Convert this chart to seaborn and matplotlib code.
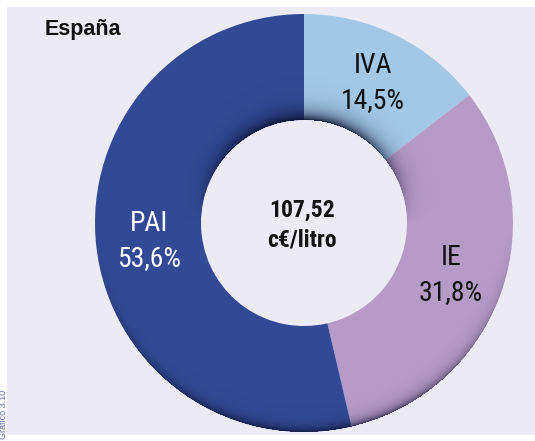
import numpy as np
import matplotlib
matplotlib.use("Agg")
import matplotlib.pyplot as plt
from matplotlib import font_manager
from matplotlib.patches import Rectangle
import seaborn as sns

# Composition of the fuel price (c€/litro) in Spain
componentes = ["IVA", "IE", "PAI"]
porcentajes = [14.5, 31.8, 53.6]
etiquetas_pct = ["14,5%", "31,8%", "53,6%"]
precio_total = "107,52"
unidad = "c€/litro"
titulo = "España"
grafico = "Gráfico 3.10"

colores = ["#A3C8E6", "#B59BC6", "#324A96"]
colores_texto = ["#111111", "#111111", "#FFFFFF"]

sns.set_theme(style="white")
plt.rcParams["font.family"] = ["Liberation Sans", "DejaVu Sans"]

available = {f.name for f in font_manager.fontManager.ttflist}
cond_family = "DejaVu Sans"
for cand in ["Liberation Sans Narrow", "Roboto Condensed", "Open Sans Condensed", "DejaVu Sans Condensed"]:
    if cand in available:
        cond_family = cand
        break

W, H = 535, 441
fig = plt.figure(figsize=(W / 100, H / 100), dpi=100)
fig.patch.set_facecolor("white")
ax = fig.add_axes([0, 0, 1, 1])

# panel background
ax.add_patch(Rectangle((7, 6), W - 7, 428, facecolor="#ECEBF5", edgecolor="none", zorder=0))

cx, cy = 304, 218
r_out, ring = 209, 106
r_in = r_out - ring

pal = sns.color_palette(colores)
wedges, _ = ax.pie(
    porcentajes,
    colors=pal,
    startangle=90,
    counterclock=False,
    radius=r_out,
    center=(cx, cy),
    wedgeprops=dict(width=ring, edgecolor="none"),
    frame=True,
)

# soft bevel shading along the inner top and outer bottom edges of the ring
xs = np.arange(W) + 0.5
ys = np.arange(H) + 0.5
X, Y = np.meshgrid(xs, ys)
dx, dy = X - cx, Y - cy
rr = np.hypot(dx, dy)
s = np.divide(dy, rr, out=np.zeros_like(rr), where=rr > 0)
inner = np.clip(s, 0, 1) * np.exp(-(rr - r_in) / 8.0)
outer = np.clip(-s, 0, 1) ** 1.5 * np.exp(-(r_out - rr) / 5.0)
mask = (rr >= r_in) & (rr <= r_out)
alpha = np.clip(0.9 * inner + 0.75 * outer, 0, 1) * mask
img = np.zeros((H, W, 4))
img[..., 0] = 0.03
img[..., 1] = 0.05
img[..., 2] = 0.16
img[..., 3] = alpha
ax.imshow(img, extent=(0, W, 0, H), origin="lower", zorder=3, interpolation="bilinear")

ax.set_xlim(0, W)
ax.set_ylim(0, H)
ax.set_aspect("equal")
ax.axis("off")

# slice labels at the middle of the ring
total = sum(porcentajes)
acum = 0.0
r_lab = r_out - ring / 2
for nombre, pct, txt, col in zip(componentes, porcentajes, etiquetas_pct, colores_texto):
    mid = 90 - (acum + pct / 2) / total * 360
    acum += pct
    tx = cx + r_lab * np.cos(np.radians(mid))
    ty = cy + r_lab * np.sin(np.radians(mid))
    ax.text(tx, ty, f"{nombre}\n{txt}", ha="center", va="center", color=col,
            fontsize=20, family=cond_family, fontstretch="condensed",
            linespacing=1.4, zorder=5)

# total in the centre
ax.text(cx - 2, cy - 2, f"{precio_total}\n{unidad}", ha="center", va="center",
        color="#111111", fontsize=17, fontweight="bold", family=cond_family,
        fontstretch="condensed", linespacing=1.4, zorder=5)

ax.text(45, 406, titulo, ha="left", va="baseline", fontsize=15.5,
        fontweight="bold", color="#111111", zorder=5)

ax.text(3.5, 2, grafico, rotation=90, ha="center", va="bottom", fontsize=6.5,
        color="#5A6DB4", zorder=5)

fig.savefig("out.png", dpi=100, facecolor="white")
